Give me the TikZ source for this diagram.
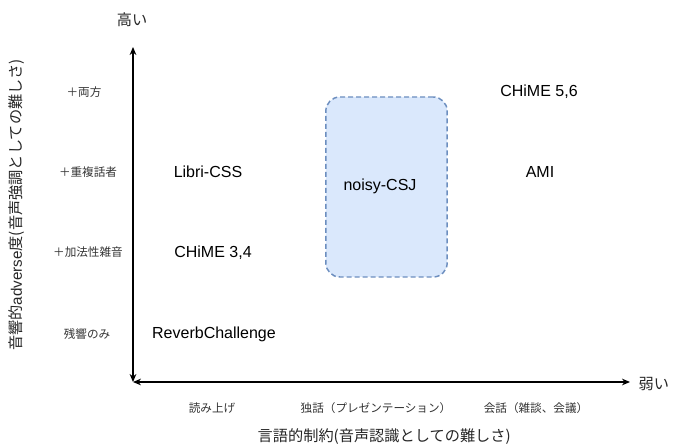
\documentclass[tikz,border=0pt]{standalone}
\usepackage{fontspec}
\setmainfont{Liberation Sans}
\newfontfamily\jp{Noto Sans CJK JP}
\usetikzlibrary{arrows.meta}

\definecolor{boxfill}{HTML}{DAE8FC}
\definecolor{boxline}{HTML}{6C8EBF}

\begin{document}
\begin{tikzpicture}[x=0.75pt,y=-0.75pt,
  axis/.style={thick,{Stealth[length=6pt,width=5pt]}-{Stealth[length=6pt,width=5pt]}},
  level/.style={font=\jp\fontsize{8.7}{10}\selectfont,text=black!80},
  corpus/.style={font=\fontsize{12}{14}\selectfont},
  axtitle/.style={font=\jp\fontsize{11.4}{13}\selectfont,text=black!85}]
\useasboundingbox (0,0) rectangle (679,448);

% ejes
\coordinate (origin) at (133,382);
\coordinate (ytop) at (133,47);
\coordinate (xend) at (630,382);
\draw[axis] (origin) -- (ytop);
\draw[axis] (origin) -- (xend);

\node[axtitle] (high) at (132,20) {高い};
\node[axtitle,anchor=west] (weak) at (634,384) {弱い};

% titulos de los ejes
\node[axtitle,rotate=90] (ytitle) at (17,205) {音響的{\fontspec{Liberation Sans}adverse}度({\jp 音声強調としての難しさ})};
\node[axtitle,anchor=west] (xtitle) at (253,437) {言語的制約(音声認識としての難しさ)};

% niveles del eje vertical
\node[level] (both) at (84,92) {＋両方};
\node[level] (overlap) at (88,172) {＋重複話者};
\node[level] (noise) at (88,252) {＋加法性雑音};
\node[level] (reverb) at (87,334) {残響のみ};

% niveles del eje horizontal
\node[level] (read) at (212,408) {読み上げ};
\node[level] (mono) at (376,408) {独話（プレゼンテーション）};
\node[level] (conv) at (536,408) {会話（雑談、会議）};

% recuadro de noisy-CSJ
\node[draw=boxline,fill=boxfill,line width=1.1pt,dash pattern=on 3.75pt off 2.25pt,
  rounded corners=10.5pt,minimum width=91pt,minimum height=135pt] (csjbox) at (386.5,187) {};
\node[corpus] (csj) at (380,186) {noisy-CSJ};

% corpus
\node[corpus] (chime56) at (539,92) {CHiME 5,6};
\node[corpus] (libri) at (208,172) {Libri-CSS};
\node[corpus] (ami) at (540,172) {AMI};
\node[corpus] (chime34) at (213,253) {CHiME 3,4};
\node[corpus] (revch) at (214,334) {ReverbChallenge};
\end{tikzpicture}
\end{document}
